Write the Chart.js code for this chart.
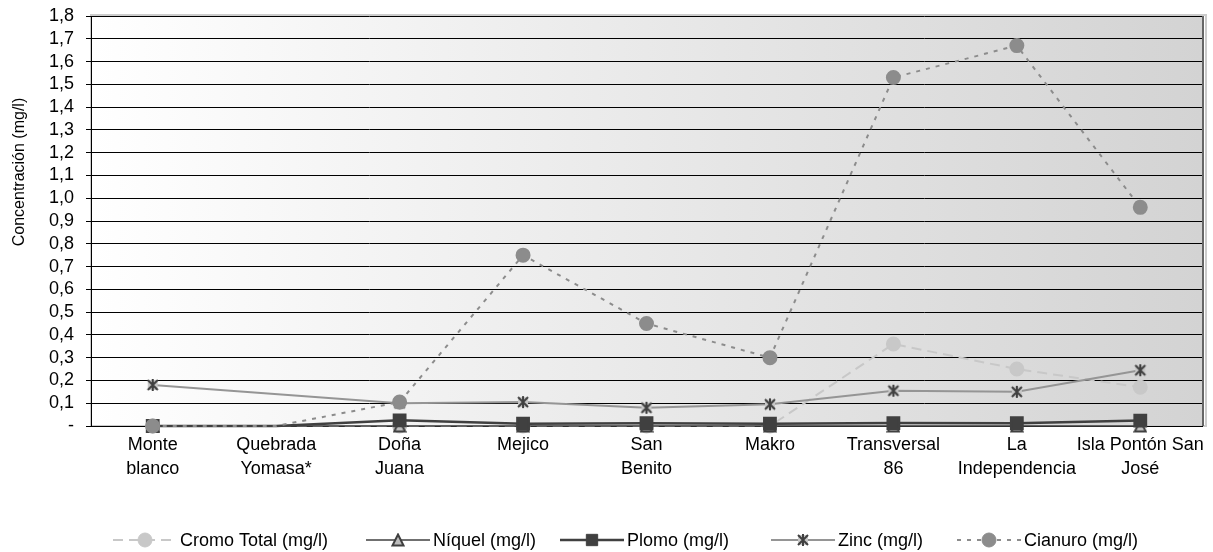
<!DOCTYPE html>
<html lang="es">
<head>
<meta charset="UTF-8">
<script src="https://cdn.jsdelivr.net/npm/chart.js"></script>
<title>Concentración</title>
<style>
  * { margin: 0; padding: 0; box-sizing: border-box; }
  body { background: #fff; }
  .chartBox { width: 1213px; height: 552px; }
</style>
</head>
<body>
<div class="chartBox"><canvas id="myChart"></canvas></div>
<script>
// data block
const estaciones = [['Monte', 'blanco'], ['Quebrada', 'Yomasa*'], ['Doña', 'Juana'], 'Mejico', ['San', 'Benito'],
  'Makro', ['Transversal', '86'], ['La', 'Independencia'], ['Isla Pontón San', 'José']];
const cromo   = [0, 0, 0, 0, 0, 0, 0.36, 0.25, 0.17];
const niquel  = [0, 0, 0, 0, 0, 0, 0, 0, 0];
const plomo   = [0, 0, 0.025, 0.01, 0.012, 0.01, 0.013, 0.012, 0.024];
const zinc    = [0.18, null, 0.10, 0.105, 0.08, 0.095, 0.155, 0.15, 0.245];
const cianuro = [0, 0, 0.105, 0.75, 0.45, 0.30, 1.53, 1.67, 0.96];
const yTitle = 'Concentración (mg/l)';

const FONT = 'Liberation Sans, Arial, sans-serif';

// excel-like star marker: x plus vertical bar on a light square
function makeStar() {
  const c = document.createElement('canvas');
  c.width = 14; c.height = 14;
  const g = c.getContext('2d');
  g.fillStyle = '#c8c8c8';
  g.fillRect(2, 2, 10, 10);
  g.strokeStyle = '#404040';
  g.lineWidth = 2;
  g.beginPath();
  g.moveTo(2, 2); g.lineTo(12, 12);
  g.moveTo(12, 2); g.lineTo(2, 12);
  g.moveTo(7, 1); g.lineTo(7, 13);
  g.stroke();
  return c;
}
// triangle centred on its box, like excel
function makeTriangle() {
  const c = document.createElement('canvas');
  c.width = 14; c.height = 14;
  const g = c.getContext('2d');
  g.fillStyle = '#bdbdbd';
  g.strokeStyle = '#404040';
  g.lineWidth = 2;
  g.beginPath();
  g.moveTo(7, 1.5); g.lineTo(12.5, 12.5); g.lineTo(1.5, 12.5); g.closePath();
  g.fill();
  g.stroke();
  return c;
}
const star = makeStar();
const triangle = makeTriangle();

// Quebrada Yomasa has no markers
const hideQuebrada = r => ctx => (ctx.dataIndex === 1 ? 0 : r);

const data = {
  labels: estaciones,
  datasets: [
    {
      label: 'Cromo Total (mg/l)', data: cromo, order: 4, clip: 12,
      borderColor: '#c8c8c8', borderWidth: 2, borderDash: [10, 6],
      pointStyle: 'circle', pointRadius: hideQuebrada(6.5),
      pointBackgroundColor: '#c8c8c8', pointBorderColor: '#c8c8c8'
    },
    {
      label: 'Níquel (mg/l)', data: niquel, order: 3, clip: 12,
      borderColor: '#404040', borderWidth: 1.5,
      pointStyle: triangle, pointRadius: hideQuebrada(7)
    },
    {
      label: 'Plomo (mg/l)', data: plomo, order: 2, clip: 12,
      borderColor: '#404040', borderWidth: 2.5,
      pointStyle: 'rect', pointRadius: hideQuebrada(8),
      pointBackgroundColor: '#404040', pointBorderColor: '#404040'
    },
    {
      label: 'Zinc (mg/l)', data: zinc, order: 1, spanGaps: true, clip: 12,
      borderColor: '#959595', borderWidth: 2,
      pointStyle: star, pointRadius: 7
    },
    {
      label: 'Cianuro (mg/l)', data: cianuro, order: 0, clip: 12,
      borderColor: '#8c8c8c', borderWidth: 2, borderDash: [4, 6],
      pointStyle: 'circle', pointRadius: hideQuebrada(6.5),
      pointBackgroundColor: '#8c8c8c', pointBorderColor: '#8c8c8c'
    }
  ]
};

// plugin block
const plotBg = {
  id: 'plotBg',
  beforeDraw(chart) {
    const { ctx, chartArea: { top, bottom, left, right } } = chart;
    ctx.save();
    const g = ctx.createLinearGradient(left, 0, right, 0);
    g.addColorStop(0, '#ffffff');
    g.addColorStop(1, '#d3d3d3');
    ctx.fillStyle = g;
    ctx.fillRect(left, top, right - left, bottom - top);
    ctx.strokeStyle = '#cccccc';
    ctx.lineWidth = 2;
    ctx.strokeRect(left, top - 1, right - left + 4, bottom - top + 1);
    ctx.restore();
  },
  beforeDatasetsDraw(chart) {
    const { ctx, chartArea: { top, bottom, right } } = chart;
    ctx.save();
    ctx.strokeStyle = '#666666';
    ctx.lineWidth = 2;
    ctx.beginPath();
    ctx.moveTo(right + 1, top);
    ctx.lineTo(right + 1, bottom);
    ctx.stroke();
    ctx.restore();
  },
  afterDraw(chart) {
    // y axis title
    const { ctx } = chart;
    ctx.save();
    ctx.translate(20, 172);
    ctx.rotate(-Math.PI / 2);
    ctx.font = '16px ' + FONT;
    ctx.fillStyle = '#000';
    ctx.textAlign = 'center';
    ctx.textBaseline = 'middle';
    ctx.fillText(yTitle, 0, 0);
    ctx.restore();
  }
};

const legendDraw = {
  id: 'legendDraw',
  afterDraw(chart) {
    const { ctx } = chart;
    const y = 540;
    const starts = [113, 366, 560, 771, 957];
    const lineW = 64, gap = 3;
    ctx.save();
    ctx.font = '18px ' + FONT;
    chart.data.datasets.forEach((ds, i) => {
      const x = starts[i];
      ctx.strokeStyle = ds.borderColor;
      ctx.lineWidth = ds.borderWidth;
      ctx.setLineDash(ds.borderDash || []);
      ctx.beginPath();
      ctx.moveTo(x, y);
      ctx.lineTo(x + lineW, y);
      ctx.stroke();
      ctx.setLineDash([]);
      ctx.fillStyle = ds.pointBackgroundColor || '#404040';
      ctx.strokeStyle = ds.pointBorderColor || '#404040';
      ctx.lineWidth = 1;
      const r = ds.pointStyle === 'rect' ? 8 : 7;
      Chart.helpers.drawPoint(ctx, { pointStyle: ds.pointStyle, radius: r, borderWidth: 1 }, x + lineW / 2, y);
      ctx.fillStyle = '#000';
      ctx.textBaseline = 'middle';
      ctx.textAlign = 'left';
      ctx.fillText(ds.label, x + lineW + gap, y + 1);
    });
    ctx.restore();
  }
};

// config block
const config = {
  type: 'line',
  data,
  options: {
    responsive: false,
    animation: false,
    layout: { padding: { left: 0, top: 16, right: 11, bottom: 66 } },
    plugins: {
      legend: { display: false },
      tooltip: { enabled: false }
    },
    scales: {
      x: {
        offset: true,
        grid: { display: false, drawTicks: false },
        border: { color: '#000', width: 1 },
        ticks: {
          color: '#000', font: { family: FONT, size: 18, lineHeight: 1.28 },
          padding: 8, maxRotation: 0, autoSkip: false
        },
        afterFit(scale) { scale.height = 60; scale.paddingLeft = 0; scale.paddingRight = 0; }
      },
      y: {
        min: 0, max: 1.8,
        grid: { color: '#000', lineWidth: 1, tickLength: 5, tickColor: '#000' },
        border: { color: '#000', width: 1 },
        ticks: {
          stepSize: 0.1, autoSkip: false, color: '#000', font: { family: FONT, size: 18, lineHeight: 1 },
          padding: 12,
          callback: v => (Math.abs(v) < 1e-9 ? '-' : v.toFixed(1).replace('.', ','))
        },
        afterFit(scale) { scale.width = 91; scale.paddingTop = 0; scale.paddingBottom = 0; }
      }
    }
  },
  plugins: [plotBg, legendDraw]
};

const canvas = document.getElementById('myChart');
canvas.width = 1213;
canvas.height = 552;
const myChart = new Chart(canvas, config);
</script>
</body>
</html>
